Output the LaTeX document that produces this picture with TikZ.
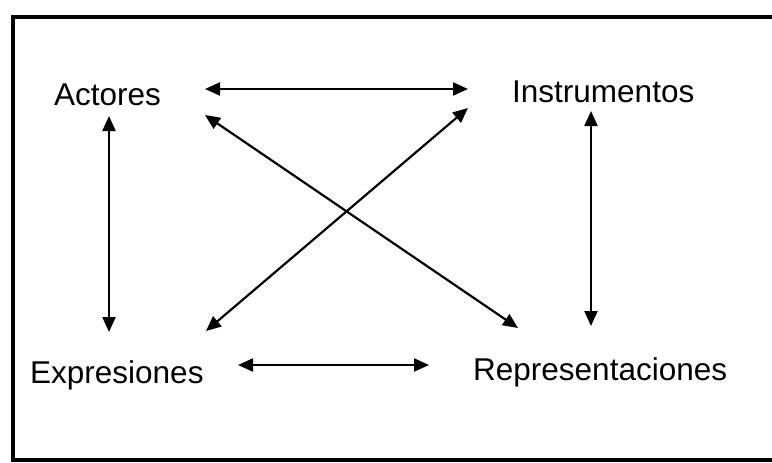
\documentclass[tikz,border=0pt]{standalone}
\usepackage{fontspec}
\setmainfont{Liberation Sans}
\usetikzlibrary{arrows.meta}
\begin{document}
\begin{tikzpicture}[x=1pt,y=-1pt,
  lbl/.style={inner sep=0pt,anchor=base west,font=\fontsize{31.5}{36}\selectfont},
  link/.style={line width=2.2pt,{Triangle[length=15pt,width=13pt]}-{Triangle[length=15pt,width=13pt]}}]
\useasboundingbox (0,0) rectangle (772,463);
\draw[line width=3.5pt,line cap=butt] (772,17) -- (13,17) -- (13,460) -- (772,460);
\node[lbl] (act) at (54,105) {Actores};
\node[lbl] (ins) at (512,102) {Instrumentos};
\node[lbl] (exp) at (30,383) {Expresiones};
\node[lbl] (rep) at (473,380) {Representaciones};
% arrow endpoints
\coordinate (t1) at (205,89);  \coordinate (t2) at (468,89);
\coordinate (l1) at (109,116); \coordinate (l2) at (109,332);
\coordinate (r1) at (591,111); \coordinate (r2) at (591,326);
\coordinate (b1) at (238,365); \coordinate (b2) at (429,365);
\coordinate (d1) at (205,115); \coordinate (d2) at (518,328);
\coordinate (e1) at (206,331); \coordinate (e2) at (468,108);
\draw[link] (t1) -- (t2);
\draw[link] (l1) -- (l2);
\draw[link] (r1) -- (r2);
\draw[link] (b1) -- (b2);
\draw[link] (d1) -- (d2);
\draw[link] (e1) -- (e2);
\end{tikzpicture}
\end{document}
